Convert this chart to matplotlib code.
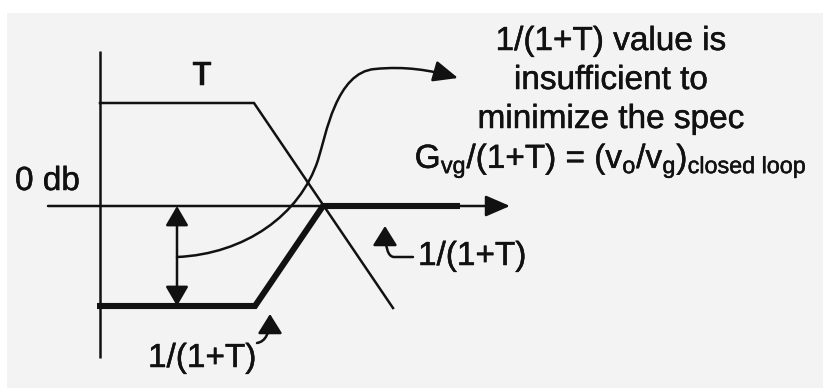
import matplotlib
matplotlib.use("Agg")
import matplotlib.pyplot as plt
import matplotlib.patheffects as pe
from matplotlib.patches import FancyArrowPatch, Rectangle
from matplotlib.path import Path

plt.rcParams['font.family'] = ['Liberation Sans', 'DejaVu Sans']
plt.rcParams['mathtext.fontset'] = 'custom'
plt.rcParams['mathtext.rm'] = 'Liberation Sans'
plt.rcParams['mathtext.it'] = 'Liberation Sans'

INK = '#111111'
PAPER = '#f3f3f3'

# ---- sketch geometry (canvas units, y grows downward) ----
# vertical axis and 0 db axis
axis_v_x = [100, 100]
axis_v_y = [51, 358]
axis_h_x = [48, 510]
axis_h_y = [206, 206]

# loop gain T asymptotes
t_x = [100, 254, 393]
t_y = [103, 103, 308]

# 1/(1+T) asymptotes (bold)
inv_x = [97, 255, 323, 460]
inv_y = [306, 306, 206, 206]

# margin arrow between 0 db and 1/(1+T)
gap_x = 177
gap_top, gap_bottom = 206, 306

# s-shaped leader from the gap to the note (cubic bezier pieces)
leader_pts = [(177, 257),
              (245, 254), (300, 215), (318, 160),
              (326, 135), (336, 72), (375, 69),
              (405, 66), (430, 70), (458, 78)]

note_lines = ["1/(1+T) value is", "insufficient to", "minimize the spec",
              r"G$_\mathrm{vg}$/(1+T) = (v$_\mathrm{o}$/v$_\mathrm{g}$)$_\mathrm{closed\ loop}$"]
note_baselines = [50, 89, 128, 168]

fig = plt.figure(figsize=(8.23, 3.88), dpi=100, facecolor='white')
ax = fig.add_axes([0, 0, 1, 1])
ax.set_xlim(0, 823)
ax.set_ylim(388, 0)
ax.axis('off')

# scanned page tone
ax.add_patch(Rectangle((7, 13), 823, 388, facecolor=PAPER, edgecolor='none', zorder=0))

thin = 1.8
bold = 4.4

ax.plot(axis_v_x, axis_v_y, color=INK, lw=thin, solid_capstyle='butt')
ax.annotate('', xy=(axis_h_x[1], axis_h_y[1]), xytext=(axis_h_x[0], axis_h_y[0]),
            arrowprops=dict(arrowstyle='-|>,head_length=15,head_width=6.5', mutation_scale=1,
                            color=INK, lw=thin, shrinkA=0, shrinkB=0))

ax.plot(t_x, t_y, color=INK, lw=thin, solid_joinstyle='miter')
ax.plot(inv_x, inv_y, color=INK, lw=bold, solid_joinstyle='miter', solid_capstyle='butt')

ax.annotate('', xy=(gap_x, gap_bottom), xytext=(gap_x, gap_top),
            arrowprops=dict(arrowstyle='<|-|>,head_length=12,head_width=7', mutation_scale=1,
                            color=INK, lw=thin, shrinkA=0, shrinkB=0))

codes = [Path.MOVETO] + [Path.CURVE4] * 9
ax.add_patch(FancyArrowPatch(path=Path(leader_pts, codes),
                             arrowstyle='-|>,head_length=15,head_width=6.5', mutation_scale=1,
                             color=INK, lw=thin))

# small pointers to the two 1/(1+T) segments
bottom_ptr = Path([(257, 343), (270, 341), (270, 314)],
                  [Path.MOVETO, Path.CURVE3, Path.CURVE3])
ax.add_patch(FancyArrowPatch(path=bottom_ptr,
                             arrowstyle='-|>,head_length=12,head_width=7.5', mutation_scale=1,
                             color=INK, lw=thin))
right_ptr = Path([(413, 257), (394, 257), (385, 257), (385, 226)],
                 [Path.MOVETO, Path.LINETO, Path.CURVE3, Path.CURVE3])
ax.add_patch(FancyArrowPatch(path=right_ptr,
                             arrowstyle='-|>,head_length=12,head_width=7.5', mutation_scale=1,
                             color=INK, lw=thin))

fs = 24
heavy = [pe.withStroke(linewidth=0.35, foreground=INK)]
ax.text(202, 85, "T", fontsize=fs, ha='center', va='baseline', color=INK, path_effects=heavy)
ax.text(15, 190, "0 db", fontsize=fs, ha='left', va='baseline', color=INK, path_effects=heavy)
ax.text(148, 367, "1/(1+T)", fontsize=fs, ha='left', va='baseline', color=INK, path_effects=heavy)
ax.text(418, 265, "1/(1+T)", fontsize=fs, ha='left', va='baseline', color=INK, path_effects=heavy)

for line, base in zip(note_lines, note_baselines):
    ax.text(611, base, line, fontsize=fs, ha='center', va='baseline', color=INK,
            path_effects=heavy)

fig.savefig("out.png", dpi=100, facecolor=fig.get_facecolor())
